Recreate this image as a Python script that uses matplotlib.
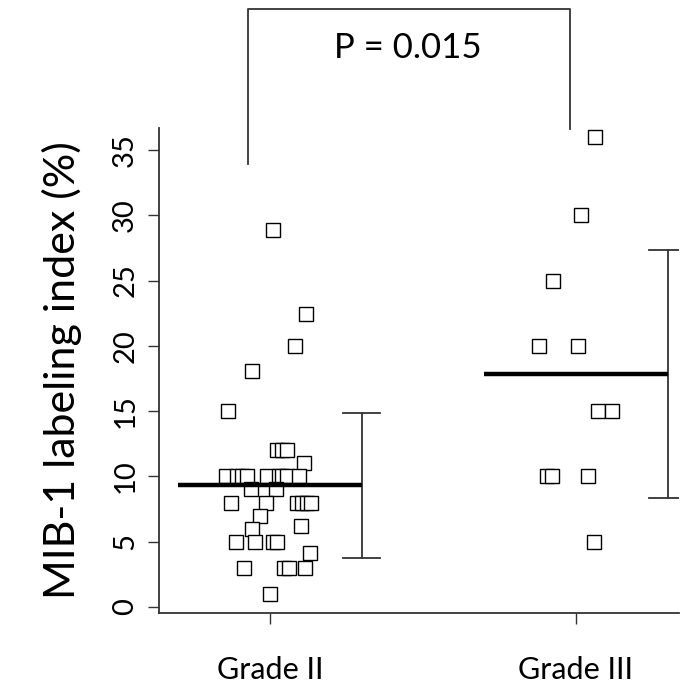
import numpy as np
import matplotlib.pyplot as plt

plt.rcParams['font.family'] = ['Lato', 'DejaVu Sans']

# x positions (jittered) and MIB-1 values
g2_x = [1.010, 1.118, 1.082, 0.941, 0.863,
        1.023, 1.039, 1.056, 1.111,
        0.856, 0.892, 0.908, 0.925, 0.990, 1.029, 1.039, 1.056, 1.095,
        0.938, 1.020, 0.987, 0.873, 1.088, 1.105, 1.121, 1.134,
        0.967, 0.941, 1.101,
        0.889, 0.951, 1.010, 1.023, 1.131,
        0.915, 1.046, 1.062, 1.114, 1.000]
g2_y = [28.9, 22.4, 20.0, 18.1, 15.0,
        12.0, 12.0, 12.0, 11.0,
        10, 10, 10, 10, 10, 10, 10, 10, 10,
        9.0, 9.0, 8.0, 8.0, 8.0, 8.0, 8.0, 8.0,
        7.0, 6.0, 6.2,
        5.0, 5.0, 5.0, 5.0, 4.1,
        3.0, 3.0, 3.0, 3.0, 1.0]

g3_x = [2.062, 2.016, 1.925, 1.879, 2.007, 2.072, 2.118, 1.905, 1.921, 2.040, 2.059]
g3_y = [36.0, 30.0, 25.0, 20.0, 20.0, 15.0, 15.0, 10.0, 10.0, 10.0, 5.0]

groups = ["Grade II", "Grade III"]
p_text = "P = 0.015"

fig = plt.figure(figsize=(6.89, 6.89), dpi=100)
ax = fig.add_axes([0.2308, 0.1103, 0.9855 - 0.2308, 0.8142 - 0.1103])

line_col = "#333333"

# points
ax.plot(g2_x, g2_y, "s", ms=10.5, mfc="white", mec="black", mew=1.0, zorder=3)
ax.plot(g3_x, g3_y, "s", ms=10.5, mfc="white", mec="black", mew=1.0, zorder=3)

# mean line + SD bar
for pos, vals in [(1, g2_y), (2, g3_y)]:
    m = np.mean(vals)
    sd = np.std(vals, ddof=1)
    ax.plot([pos - 0.3, pos + 0.3], [m, m], color="black", lw=3.2, zorder=4,
            solid_capstyle="butt")
    ax.plot([pos + 0.3, pos + 0.3], [m - sd, m + sd], color=line_col, lw=1.3, zorder=2)
    for v in (m - sd, m + sd):
        ax.plot([pos + 0.24, pos + 0.36], [v, v], color=line_col, lw=1.3, zorder=2)

# significance bracket
ax.plot([0.928, 0.928, 1.98, 1.98], [33.9, 45.8, 45.8, 36.6], color=line_col,
        lw=1.3, clip_on=False)
ax.text(1.45, 42.8, p_text, ha="center", va="center", fontsize=25, clip_on=False)

ax.set_xlim(0.637, 2.337)
ax.set_ylim(-0.46, 36.68)
ax.set_xticks([1, 2])
ax.set_xticklabels(groups)
ax.set_yticks(range(0, 36, 5))
ax.tick_params(axis="y", labelrotation=90, length=8, width=1, pad=7, labelsize=21,
               color=line_col)
ax.tick_params(axis="x", length=8, width=1, pad=23, labelsize=22, color=line_col)
for lab in ax.get_yticklabels():
    lab.set_va("center")

for s in ["top", "right"]:
    ax.spines[s].set_visible(False)
for s in ["left", "bottom"]:
    ax.spines[s].set_color(line_col)
    ax.spines[s].set_linewidth(1.3)

ax.set_ylabel("MIB-1 labeling index (%)", fontsize=31, labelpad=22)

fig.savefig("out.png", dpi=100)
